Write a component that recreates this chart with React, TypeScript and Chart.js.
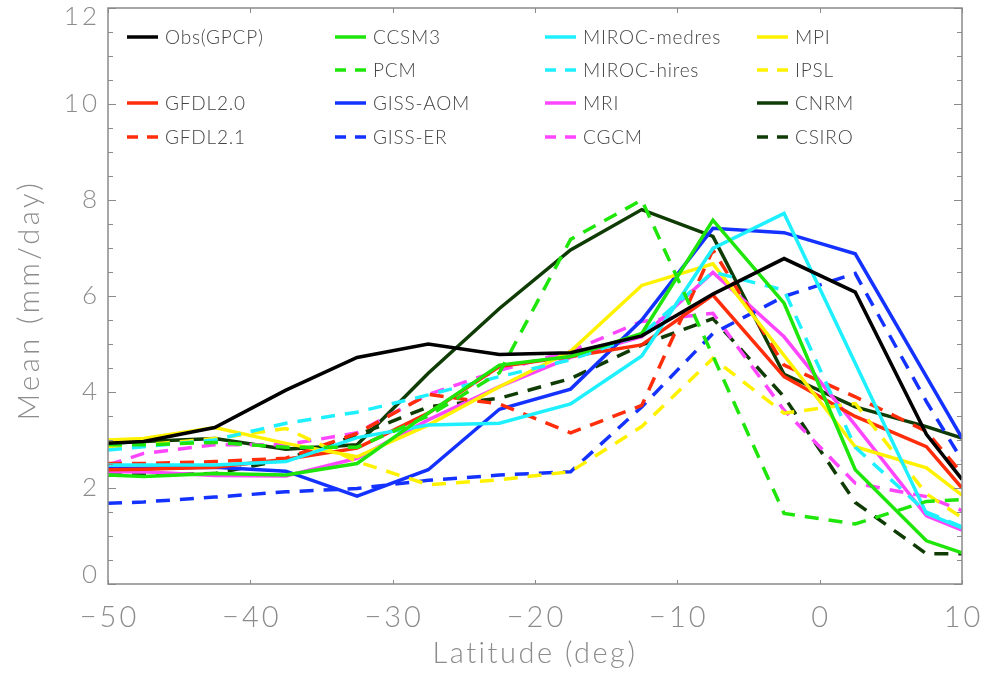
import React, { useEffect, useRef } from "react";
import { Chart, registerables } from "chart.js";

Chart.register(...registerables);

// ---- data ----
const latitudes = [-50, -47.5, -42.5, -37.5, -32.5, -27.5, -22.5, -17.5, -12.5, -7.5, -2.5, 2.5, 7.5, 10];

const obsGPCP = [2.93, 2.97, 3.26, 4.04, 4.72, 5.0, 4.78, 4.82, 5.17, 6.04, 6.78, 6.08, 3.12, 2.18];
const ccsm3 = [2.27, 2.24, 2.3, 2.27, 2.51, 3.56, 4.56, 4.74, 5.22, 7.58, 5.85, 2.38, 0.9, 0.65];
const pcm = [2.9, 2.9, 2.95, 2.85, 2.85, 3.5, 4.4, 7.18, 8.0, 4.75, 1.47, 1.25, 1.72, 1.76];
const mirocMedres = [2.48, 2.48, 2.48, 2.55, 3.05, 3.31, 3.35, 3.75, 4.75, 6.99, 7.72, 4.6, 1.47, 1.17];
const mirocHires = [2.79, 2.86, 3.0, 3.35, 3.58, 3.94, 4.32, 4.67, 5.2, 6.5, 6.12, 2.85, 1.5, 1.19];
const mpi = [3.0, 3.03, 3.26, 2.93, 2.65, 3.31, 4.11, 4.85, 6.22, 6.67, 4.76, 2.86, 2.42, 1.85];
const ipsl = [2.86, 2.9, 3.03, 3.24, 2.55, 2.07, 2.17, 2.34, 3.28, 4.7, 3.56, 3.76, 1.88, 1.38];
const gfdl20 = [2.38, 2.39, 2.43, 2.6, 2.83, 3.56, 4.53, 4.74, 4.98, 6.02, 4.32, 3.49, 2.86, 2.0];
const gfdl21 = [2.51, 2.51, 2.55, 2.62, 3.14, 3.95, 3.75, 3.15, 3.72, 6.96, 4.56, 3.9, 3.18, 2.3];
const gissAom = [2.41, 2.41, 2.43, 2.35, 1.83, 2.38, 3.64, 4.06, 5.5, 7.41, 7.32, 6.88, 4.32, 3.04];
const gissEr = [1.68, 1.71, 1.81, 1.92, 1.99, 2.16, 2.27, 2.34, 3.69, 5.22, 5.99, 6.47, 3.8, 2.58];
const mri = [2.34, 2.34, 2.26, 2.25, 2.62, 3.42, 4.11, 4.72, 5.15, 6.49, 5.15, 3.31, 1.42, 1.12];
const cgcm = [2.48, 2.72, 2.9, 2.9, 3.15, 3.95, 4.45, 4.85, 5.47, 5.64, 3.62, 2.1, 1.82, 1.53];
const cnrm = [2.93, 2.97, 3.03, 2.81, 2.9, 4.39, 5.74, 6.96, 7.8, 7.24, 4.37, 3.69, 3.28, 3.04];
const csiro = [2.27, 2.27, 2.3, 2.6, 3.1, 3.69, 3.87, 4.28, 4.98, 5.53, 3.9, 1.7, 0.63, 0.63];

const xTickValues = [-50, -40, -30, -20, -10, 0, 10];
const yTickValues = [0, 2, 4, 6, 8, 10, 12];
const xTitle = "Latitude (deg)";
const yTitle = "Mean (mm/day)";

// legend grid (rows x columns), null = empty cell
const legendGrid: (string | null)[][] = [
  ["Obs(GPCP)", "CCSM3", "MIROC-medres", "MPI"],
  [null, "PCM", "MIROC-hires", "IPSL"],
  ["GFDL2.0", "GISS-AOM", "MRI", "CNRM"],
  ["GFDL2.1", "GISS-ER", "CGCM", "CSIRO"],
];

// ---- styles ----
const BLACK = "#000000";
const GREEN = "#1ee60a";
const CYAN = "#1ef0ff";
const YELLOW = "#fff200";
const RED = "#ff2d0a";
const BLUE = "#1432ff";
const MAGENTA = "#ff46ff";
const DKGREEN = "#0f3c05";
const DASH = [14, 10];

const series = [
  { label: "Obs(GPCP)", values: obsGPCP, color: BLACK, dashed: false },
  { label: "CCSM3", values: ccsm3, color: GREEN, dashed: false },
  { label: "PCM", values: pcm, color: GREEN, dashed: true },
  { label: "MIROC-medres", values: mirocMedres, color: CYAN, dashed: false },
  { label: "MIROC-hires", values: mirocHires, color: CYAN, dashed: true },
  { label: "MPI", values: mpi, color: YELLOW, dashed: false },
  { label: "IPSL", values: ipsl, color: YELLOW, dashed: true },
  { label: "GFDL2.0", values: gfdl20, color: RED, dashed: false },
  { label: "GFDL2.1", values: gfdl21, color: RED, dashed: true },
  { label: "GISS-AOM", values: gissAom, color: BLUE, dashed: false },
  { label: "GISS-ER", values: gissEr, color: BLUE, dashed: true },
  { label: "MRI", values: mri, color: MAGENTA, dashed: false },
  { label: "CGCM", values: cgcm, color: MAGENTA, dashed: true },
  { label: "CNRM", values: cnrm, color: DKGREEN, dashed: false },
  { label: "CSIRO", values: csiro, color: DKGREEN, dashed: true },
];

const FONT = "Lato, Roboto, 'DejaVu Sans', sans-serif";
const AXIS_COLOR = "#8a8a8a";
const TEXT_COLOR = "#8c8c8c";

const decorPlugin = {
  id: "idlDecor",
  afterDatasetsDraw(chart: any) {
    const ctx: CanvasRenderingContext2D = chart.ctx;
    const { left, right, top, bottom } = chart.chartArea;
    const xs = chart.scales.x;
    const ys = chart.scales.y;
    ctx.save();

    // frame
    ctx.strokeStyle = AXIS_COLOR;
    ctx.lineWidth = 1.5;
    ctx.setLineDash([]);
    ctx.strokeRect(left, top, right - left, bottom - top);

    // y ticks (left & right), minor every 0.5
    ctx.lineWidth = 1;
    for (let v = 0; v <= 12.0001; v += 0.5) {
      const py = Math.round(ys.getPixelForValue(v)) + 0.5;
      const major = Math.abs(v % 2) < 1e-6;
      const len = major ? 8 : 5;
      ctx.beginPath();
      ctx.moveTo(left, py);
      ctx.lineTo(left + len, py);
      ctx.moveTo(right, py);
      ctx.lineTo(right - len, py);
      ctx.stroke();
    }
    // x ticks (top & bottom)
    for (const v of xTickValues) {
      const px = Math.round(xs.getPixelForValue(v)) + 0.5;
      ctx.beginPath();
      ctx.moveTo(px, bottom);
      ctx.lineTo(px, bottom - 4);
      ctx.moveTo(px, top);
      ctx.lineTo(px, top + 5);
      ctx.stroke();
    }

    // tick labels
    ctx.fillStyle = TEXT_COLOR;
    ctx.textBaseline = "middle";
    (ctx as any).letterSpacing = "3px";
    ctx.font = `300 26px ${FONT}`;
    ctx.textAlign = "right";
    for (const v of yTickValues) {
      let py = ys.getPixelForValue(v);
      py = Math.min(Math.max(py, top + 9), bottom - 9);
      ctx.fillText(String(v), left - 8, py);
    }
    ctx.font = `300 29px ${FONT}`;
    ctx.textAlign = "center";
    for (const v of xTickValues) {
      const px = xs.getPixelForValue(v);
      const txt = v < 0 ? "\u2212" + Math.abs(v) : String(v);
      ctx.fillText(txt, px + 1.5, bottom + 34);
    }

    // axis titles
    (ctx as any).letterSpacing = "2.5px";
    ctx.font = `300 29px ${FONT}`;
    ctx.fillText(xTitle, (left + right) / 2, bottom + 70);
    ctx.save();
    (ctx as any).letterSpacing = "3.5px";
    ctx.translate(30, (top + bottom) / 2 + 4);
    ctx.rotate(-Math.PI / 2);
    ctx.fillText(yTitle, 0, 0);
    ctx.restore();

    // legend
    const colX = [127, 335, 545, 757];
    const rowY = [37, 70, 103, 137];
    (ctx as any).letterSpacing = "0.8px";
    ctx.font = `300 19px ${FONT}`;
    ctx.textAlign = "left";
    ctx.fillStyle = "#444444";
    legendGrid.forEach((row, r) => {
      row.forEach((name, c) => {
        if (!name) return;
        const s = series.find((d) => d.label === name);
        if (!s) return;
        const x0 = colX[c];
        const y0 = rowY[r];
        ctx.strokeStyle = s.color;
        ctx.lineWidth = 3.5;
        ctx.setLineDash(s.dashed ? [11, 9] : []);
        ctx.beginPath();
        ctx.moveTo(x0, y0);
        ctx.lineTo(x0 + 31, y0);
        ctx.stroke();
        ctx.setLineDash([]);
        ctx.fillText(name, x0 + 38, y0 + 1);
      });
    });

    ctx.restore();
  },
};

export default function App() {
  const canvasRef = useRef<HTMLCanvasElement | null>(null);

  useEffect(() => {
    const canvas = canvasRef.current;
    if (!canvas) return;
    const datasets = series.map((s, i) => ({
      label: s.label,
      data: latitudes.map((lat, j) => ({ x: lat, y: s.values[j] })),
      borderColor: s.color,
      backgroundColor: s.color,
      borderWidth: 3.5,
      borderDash: s.dashed ? DASH : [],
      pointRadius: 0,
      tension: 0,
      fill: false,
      order: i === 0 ? 0 : 1,
    }));
    const chart = new Chart(canvas, {
      type: "line",
      data: { datasets },
      options: {
        responsive: false,
        animation: false,
        devicePixelRatio: 1,
        layout: { padding: { top: 8, right: 22, left: 0, bottom: 0 } },
        plugins: { legend: { display: false }, tooltip: { enabled: false } },
        scales: {
          x: {
            type: "linear",
            min: -50,
            max: 10,
            grid: { display: false, drawTicks: false },
            border: { display: false },
            ticks: { display: false },
            afterFit: (s: any) => {
              s.height = 94;
            },
          },
          y: {
            type: "linear",
            min: 0,
            max: 12,
            grid: { display: false, drawTicks: false },
            border: { display: false },
            ticks: { display: false },
            afterFit: (s: any) => {
              s.width = 108;
            },
          },
        },
      },
      plugins: [decorPlugin],
    });
    return () => chart.destroy();
  }, []);

  return (
    <div style={{ position: "absolute", left: 0, top: 0, width: 984, height: 678, background: "#fff" }}>
      <canvas ref={canvasRef} width={984} height={678} />
    </div>
  );
}
